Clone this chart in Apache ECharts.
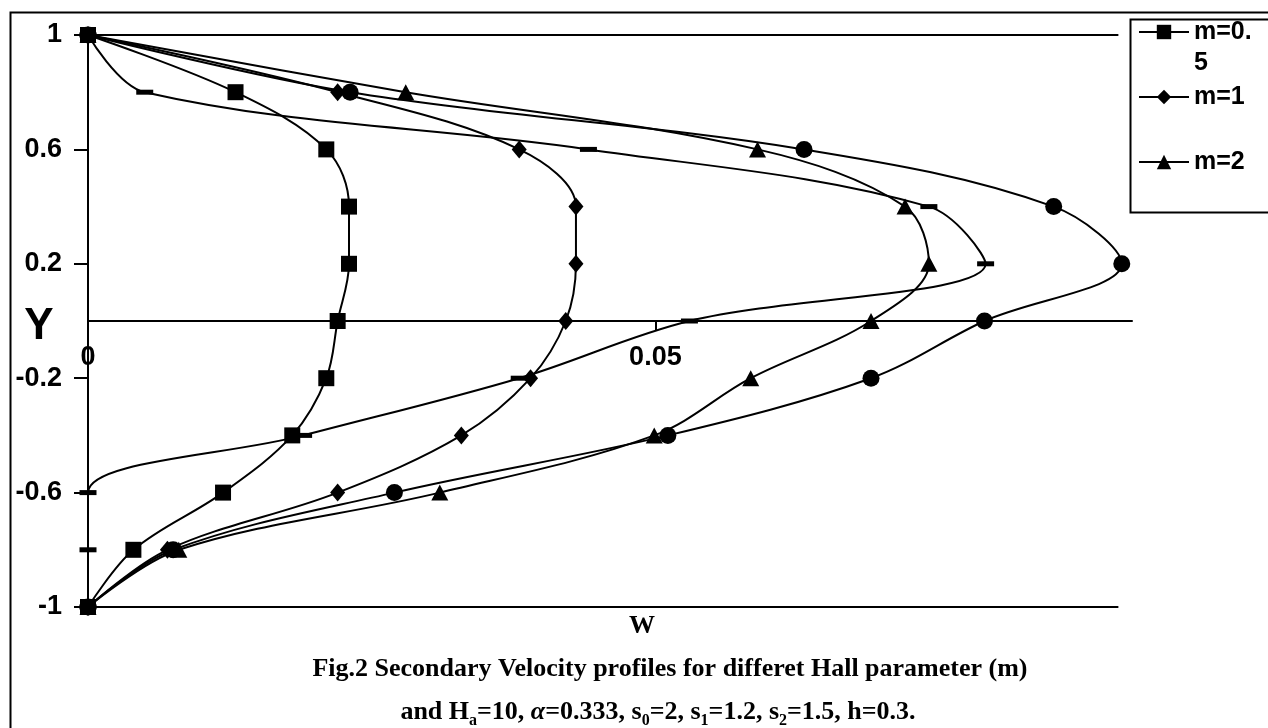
<!DOCTYPE html>
<html>
<head>
<meta charset="utf-8">
<title>Fig.2 Secondary Velocity profiles</title>
<script src="https://cdn.jsdelivr.net/npm/echarts@6/dist/echarts.min.js"></script>
<style>
    html, body { margin: 0; padding: 0; background: #fff; }
    #chart { width: 1268px; height: 728px; }
</style>
</head>
<body>
<div id="chart"></div>
<script>
//Y levels where the profiles were computed
var yLevels = [1, 0.8, 0.6, 0.4, 0.2, 0, -0.2, -0.4, -0.6, -0.8, -1];
//secondary velocity W for each Hall parameter
var wM05 = [0, 0.0130, 0.0210, 0.0230, 0.0230, 0.0220, 0.0210, 0.0180, 0.0119, 0.0040, 0];
var wM1 = [0, 0.0220, 0.0380, 0.0430, 0.0430, 0.0421, 0.0390, 0.0329, 0.0220, 0.0070, 0];
var wM2 = [0, 0.0280, 0.0590, 0.0720, 0.0741, 0.0690, 0.0584, 0.0499, 0.0310, 0.0080, 0];
//two more curves that have no legend entry in the figure
var wCircle = [0, 0.0231, 0.0631, 0.0851, 0.0911, 0.0790, 0.0690, 0.0511, 0.0270, 0.0075, 0];
var wDash = [0, 0.0050, 0.0441, 0.0741, 0.0791, 0.0530, 0.0380, 0.0190, 0, 0, 0];
var legendNames = ["m=0.5", "m=1", "m=2"];
var xTicks = { min: 0, max: 0.092, step: 0.05 };
var yTicks = { min: -1, max: 1, step: 0.4 };
var boxEndW = 0.0908;

var sansFont = "Liberation Sans";
var serifFont = "Liberation Serif";

function pairs(w) {
    return yLevels.map(function(y, i) { return [w[i], y]; });
}

function makeSeries(name, w, symbol, size) {
    return {
        name: name,
        type: "line",
        data: pairs(w),
        smooth: 0.35,
        clip: false,
        symbol: symbol,
        symbolSize: size,
        showSymbol: true,
        lineStyle: { color: "#000", width: 2 },
        itemStyle: { color: "#000" },
        emphasis: { disabled: true }
    };
}

var chart = echarts.init(document.getElementById("chart"), null, { renderer: "canvas" });

var series = [
    makeSeries("m=5", wDash, "rect", [17, 5]),
    makeSeries("m=3", wCircle, "circle", 17),
    makeSeries("m=2", wM2, "triangle", [17, 16]),
    makeSeries("m=1", wM1, "diamond", [15, 18]),
    makeSeries("m=0.5", wM05, "rect", 16)
];
//top and bottom border lines of the plot
series[0].markLine = {
    silent: true,
    symbol: "none",
    label: { show: false },
    lineStyle: { color: "#000", width: 2, type: "solid" },
    data: [
        [{ coord: [0, yTicks.max] }, { coord: [boxEndW, yTicks.max] }],
        [{ coord: [0, yTicks.min] }, { coord: [boxEndW, yTicks.min] }]
    ]
};

var option = {
    animation: false,
    backgroundColor: "#fff",
    grid: { left: 88, top: 35, width: 1044, height: 572 },
    xAxis: {
        type: "value",
        min: xTicks.min,
        max: xTicks.max,
        interval: xTicks.step,
        //the W axis crosses at Y=0, half way up the grid
        offset: -286,
        axisLine: { onZero: false, lineStyle: { color: "#000", width: 2 } },
        axisTick: { show: true, inside: false, length: 10, lineStyle: { color: "#000", width: 2 } },
        axisLabel: {
            showMaxLabel: false,
            margin: 23,
            color: "#000",
            fontFamily: sansFont,
            fontWeight: "bold",
            fontSize: 27
        },
        splitLine: { show: false }
    },
    yAxis: {
        type: "value",
        min: yTicks.min,
        max: yTicks.max,
        interval: yTicks.step,
        axisLine: { onZero: false, lineStyle: { color: "#000", width: 2 } },
        axisTick: { show: true, inside: false, length: 14, lineStyle: { color: "#000", width: 2 } },
        axisLabel: {
            margin: 26,
            color: "#000",
            fontFamily: sansFont,
            fontWeight: "bold",
            fontSize: 27
        },
        splitLine: { show: false }
    },
    legend: {
        data: legendNames,
        orient: "vertical",
        left: 1138,
        top: -14.5,
        padding: 0,
        itemGap: -28,
        itemWidth: 50,
        itemHeight: 18,
        selectedMode: false,
        formatter: function(name) {
            //the box is too narrow, so "m=0.5" breaks like the original
            if (name === "m=0.5")
                return " \nm=0.\n5";
            return " \n" + name + "\n ";
        },
        textStyle: {
            color: "#000",
            fontFamily: sansFont,
            fontWeight: "bold",
            fontSize: 25,
            lineHeight: 31
        }
    },
    graphic: [
        //outer frame
        {
            type: "rect", left: 8, top: 10, silent: true,
            shape: { width: 1300, height: 800 },
            style: { fill: "none", stroke: "#000", lineWidth: 2 }
        },
        //legend frame
        {
            type: "rect", left: 1128, top: 17, silent: true,
            shape: { width: 200, height: 193 },
            style: { fill: "none", stroke: "#000", lineWidth: 2 }
        },
        {
            type: "text", x: 39, y: 327, silent: true,
            style: {
                text: "Y", fill: "#000", align: "center", verticalAlign: "middle",
                font: "bold 44px '" + sansFont + "'"
            }
        },
        {
            type: "text", x: 642, y: 626, silent: true,
            style: {
                text: "W", fill: "#000", align: "center", verticalAlign: "middle",
                font: "bold 26px '" + serifFont + "'"
            }
        },
        {
            type: "text", x: 670, y: 669, silent: true,
            style: {
                text: "Fig.2 Secondary Velocity profiles for differet Hall parameter (m)",
                fill: "#000", align: "center", verticalAlign: "middle",
                font: "bold 26px '" + serifFont + "'"
            }
        },
        {
            type: "text", x: 658, y: 712, silent: true,
            style: {
                text: "{t|and H}{s|a}{t|=10, }{g|α}{t|=0.333, s}{s|0}{t|=2, s}{s|1}{t|=1.2, s}{s|2}{t|=1.5, h=0.3.}",
                fill: "#000", align: "center", verticalAlign: "middle",
                rich: {
                    t: { fontFamily: serifFont, fontWeight: "bold", fontSize: 26, lineHeight: 26, verticalAlign: "top", fill: "#000" },
                    g: { fontFamily: serifFont, fontWeight: "bold", fontStyle: "italic", fontSize: 26, lineHeight: 26, verticalAlign: "top", fill: "#000" },
                    s: { fontFamily: serifFont, fontWeight: "bold", fontSize: 16, lineHeight: 16, verticalAlign: "top", padding: [14, 0, 0, 0], fill: "#000" }
                }
            }
        }
    ],
    series: series
};

chart.setOption(option);
</script>
</body>
</html>
